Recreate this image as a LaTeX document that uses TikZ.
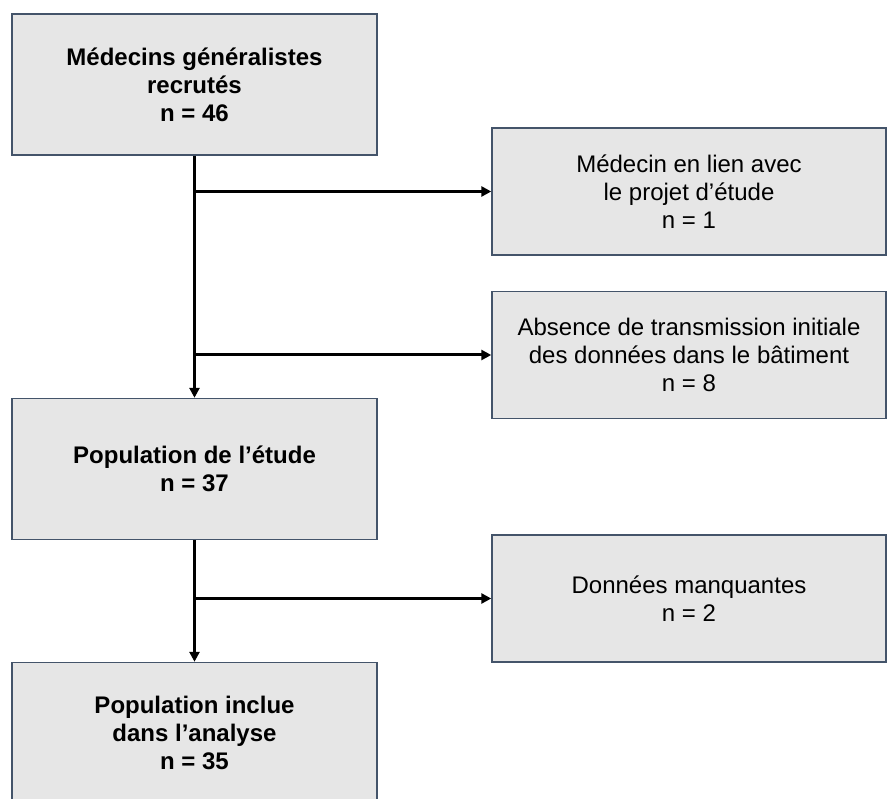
\documentclass[tikz,border=0pt]{standalone}
\usepackage{fontspec}
\setmainfont{Liberation Sans}
\usetikzlibrary{arrows.meta}
\definecolor{boxfill}{HTML}{E6E6E6}
\definecolor{boxline}{HTML}{44546A}

\begin{document}
\begin{tikzpicture}[x=1pt,y=-1pt,
  box/.style={draw=boxline,fill=boxfill,line width=1.4pt,align=center,inner sep=0pt,font=\fontsize{24}{28}\selectfont},
  mainbox/.style={box,minimum width=365pt,minimum height=141pt,font=\fontsize{24}{28}\selectfont\bfseries},
  sidebox/.style={box,minimum width=394pt,minimum height=127pt},
  flow/.style={line width=3pt,-{Triangle[length=10pt,width=10pt]}}]
	% page
	\clip (0,0) rectangle (887,799);
	% main column
	\node[mainbox] (recrutes) at (194.5,84.5) {Médecins généralistes\\recrutés\\n = 46};
	\node[mainbox] (etude) at (194.5,469) {Population de l’étude\\n = 37};
	\node[mainbox] (analyse) at (194.5,733) {Population inclue\\dans l’analyse\\n = 35};
	% exclusions
	\node[sidebox] (lien) at (689,191.5) {Médecin en lien avec\\le projet d’étude\\n = 1};
	\node[sidebox] (transmission) at (689,355) {Absence de transmission initiale\\des données dans le bâtiment\\n = 8};
	\node[sidebox] (manquantes) at (689,598.5) {Données manquantes\\n = 2};

	% trunk
	\draw [flow] (recrutes.south) -- (etude.north);
	\draw [flow] (etude.south) -- (analyse.north);
	% branches
	\draw [flow] (recrutes.south |- lien.west) -- (lien.west);
	\draw [flow] (recrutes.south |- transmission.west) -- (transmission.west);
	\draw [flow] (etude.south |- manquantes.west) -- (manquantes.west);
\end{tikzpicture}
\end{document}
